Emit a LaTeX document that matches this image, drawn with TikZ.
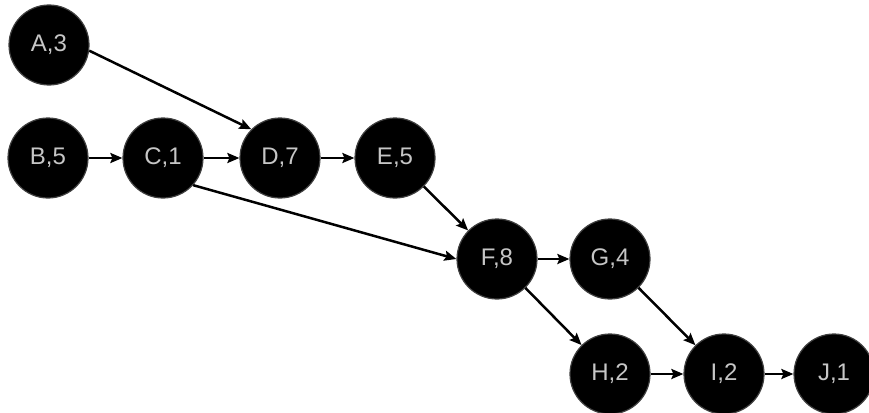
\documentclass[tikz,border=0pt]{standalone}
\usepackage{fontspec}
\setsansfont{Liberation Sans}
\usetikzlibrary{arrows.meta}
\begin{document}
\begin{tikzpicture}[x=1pt,y=-1pt,
  task/.style={circle,fill=black,draw=black!75,line width=1.2pt,minimum size=80pt,inner sep=0pt,
    text=gray!45,font=\sffamily\fontsize{24}{28}\selectfont},
  link/.style={draw=black,line width=2.5pt,-{Stealth[length=12pt,width=10pt,inset=2pt]}}]
\useasboundingbox (0,0) rectangle (869,412);
\node[task] (A) at (49,45) {A,3};
\node[task] (B) at (48,158) {B,5};
\node[task] (C) at (163,158) {C,1};
\node[task] (D) at (280,158) {D,7};
\node[task] (E) at (395,158) {E,5};
\node[task] (F) at (497,259) {F,8};
\node[task] (G) at (610,259) {G,4};
\node[task] (H) at (610,374) {H,2};
\node[task] (I) at (724,374) {I,2};
\node[task] (J) at (834,374) {J,1};
\draw[link] (A.-8) -- (D.135);
\draw[link] (B) -- (C);
\draw[link] (C) -- (D);
\draw[link] (D) -- (E);
\draw[link] (E) -- (F);
\draw[link] (C.-42) -- (F.west);
\draw[link] (F) -- (G);
\draw[link] (F) -- (H);
\draw[link] (G) -- (I);
\draw[link] (H) -- (I);
\draw[link] (I) -- (J);
\end{tikzpicture}
\end{document}
